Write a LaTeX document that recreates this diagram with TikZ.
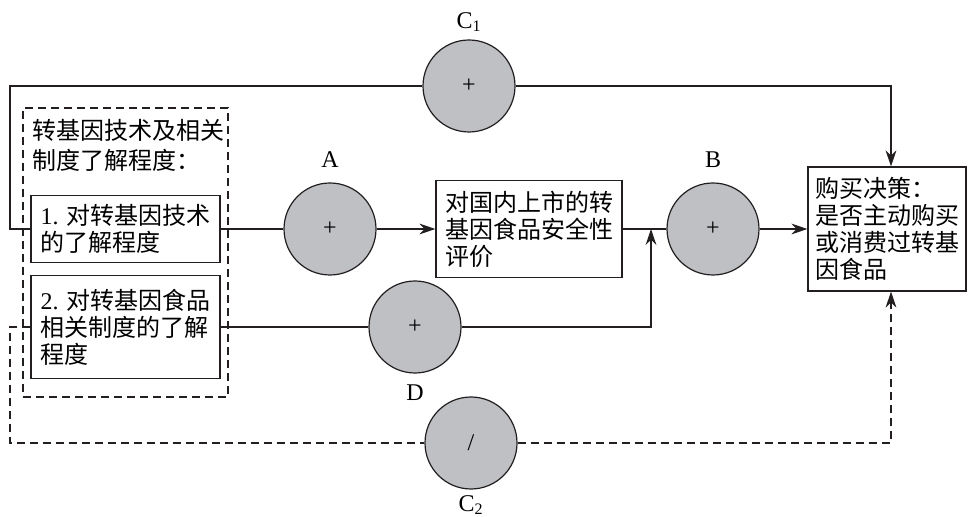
\documentclass[tikz,border=0pt]{standalone}
\usepackage{fontspec}
\setmainfont{Liberation Serif}
\newfontfamily\cjk{Noto Sans CJK SC}
\usetikzlibrary{arrows.meta}
\definecolor{circfill}{RGB}{191,192,196}
\definecolor{inkline}{RGB}{35,31,32}
\tikzset{
	factor/.style   = {shape=circle, draw=inkline, fill=circfill,
		line width=0.6pt, minimum size=46pt, inner sep=0pt,
		font=\fontsize{12pt}{14pt}\selectfont},
	textbox/.style  = {shape=rectangle, draw=inkline, line width=0.6pt,
		align=left, inner sep=0pt,
		font=\fontsize{12pt}{13.5pt}\selectfont\cjk},
	groupbox/.style = {shape=rectangle, draw=inkline, line width=0.6pt,
		dash pattern=on 4pt off 2.5pt},
	tag/.style      = {inner sep=0pt, font=\fontsize{12pt}{14pt}\selectfont},
	link/.style     = {draw=inkline, line width=0.6pt},
	dashlink/.style = {link, dash pattern=on 4pt off 2.5pt}
}
\begin{document}
\begin{tikzpicture}
[
x  = 0.5pt,
y  = -0.5pt,
>  = {Stealth[length=8pt,width=5.4pt]}
]
\useasboundingbox (0,0) rectangle (968,517);
% left group of knowledge items
\node [groupbox, minimum width=102.5pt, minimum height=144.5pt] (grp) at (125.5,252.5) {};
\node [tag, anchor=west, align=left, font=\fontsize{12pt}{15pt}\selectfont\cjk] (hdr) at (32,145)
	{转基因技术及相关\\制度了解程度：};
\node [textbox, minimum width=94.5pt, minimum height=33.5pt] (know) at (125.5,229)
	{{\rmfamily 1. }对转基因技术\\的了解程度};
\node [textbox, minimum width=94.5pt, minimum height=51.5pt] (rule) at (125.5,327)
	{{\rmfamily 2. }对转基因食品\\相关制度的了解\\程度};
% middle and right boxes
\node [textbox, minimum width=93pt, minimum height=48.5pt] (eval) at (529,229)
	{对国内上市的转\\基因食品安全性\\评价};
\node [textbox, minimum width=79pt, minimum height=62pt] (buy) at (887,229)
	{购买决策：\\是否主动购买\\或消费过转基\\因食品};
% paths
\node [factor] (A)  at (330,229) {+};
\node [factor] (B)  at (713,229) {+};
\node [factor] (C1) at (469,86)  {+};
\node [factor] (D)  at (415,327) {+};
\node [factor] (C2) at (471,443) {/};
\node [tag] (labA)  at (330,160) {A};
\node [tag] (labB)  at (713,160) {B};
\node [tag] (labC1) at (469,22)  {C\textsubscript{1}};
\node [tag] (labD)  at (415,393) {D};
\node [tag] (labC2) at (471,505) {C\textsubscript{2}};
\coordinate (jn) at (651,229);
\coordinate (tl) at (10,86);
\coordinate (bl) at (10,443);
\draw [link] (know.east) -- (A.west);
\draw [link, ->] (A.east) -- (eval.west);
\draw [link] (eval.east) -- (B.west);
\draw [link, ->] (B.east) -- (buy.west);
\draw [link] (rule.east) -- (D.west);
\draw [link, ->] (D.east) -| (jn);
\draw [link] (know.west) -| (tl) -- (C1.west);
\draw [link, ->] (C1.east) -| ([xshift=2pt]buy.north);
\draw [dashlink] (rule.west) -| (bl) -- (C2.west);
\draw [dashlink, ->] (C2.east) -| ([xshift=2pt]buy.south);
\end{tikzpicture}
\end{document}
